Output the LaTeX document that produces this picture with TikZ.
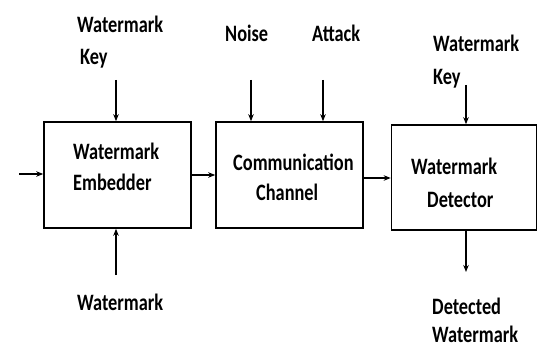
\documentclass[tikz,border=0pt]{standalone}
\usepackage{fontspec}
\setmainfont{Carlito}
\newfontfamily\lblfont{Carlito}[FakeStretch=0.78]
\usetikzlibrary{arrows.meta}
\begin{document}
\begin{tikzpicture}[x=1pt,y=-1pt,
  blk/.style={draw, line width=1.6pt, inner sep=0pt},
  lbl/.style={font=\lblfont\fontsize{23.5}{26}\selectfont\bfseries, inner sep=0pt, anchor=base west},
  arr/.style={-{Stealth[length=7pt,width=5.5pt]}, line width=1.3pt}]
\useasboundingbox (0,0) rectangle (538,350);
% blocks
\node[blk, minimum width=147pt, minimum height=106pt] (emb) at (117.5,175) {};
\node[blk, minimum width=147pt, minimum height=106pt] (chan) at (289.5,175) {};
\node[blk, minimum width=145pt, minimum height=105pt] (det) at (464,177.5) {};
% labels
\node[lbl] (wk1a) at (77,33) {Watermark};
\node[lbl] (wk1b) at (80,65) {Key};
\node[lbl] (emb1) at (73,159) {Watermark};
\node[lbl] (emb2) at (73,190) {Embedder};
\node[lbl] (wm) at (77,310) {Watermark};
\node[lbl] (noise) at (225,42) {Noise};
\node[lbl] (attack) at (312,42) {Attack};
\node[lbl] (ch1) at (233,170) {Communication};
\node[lbl] (ch2) at (256,200) {Channel};
\node[lbl] (wk2a) at (433,52) {Watermark};
\node[lbl] (wk2b) at (433,85) {Key};
\node[lbl] (det1) at (411,174) {Watermark};
\node[lbl] (det2) at (427,207) {Detector};
\node[lbl] (dd1) at (432,314) {Detected};
\node[lbl] (dd2) at (432,342) {Watermark};
% free ends
\coordinate (in) at (19,174);
\coordinate (k1) at (116,80);
\coordinate (w1) at (116,275);
\coordinate (n1) at (251,80);
\coordinate (a1) at (323,80);
\coordinate (k2) at (466,85);
\coordinate (d1) at (466,272);
\coordinate (cd) at (0,178);
% connectors
\draw[arr] (in) -- (in -| emb.west);
\draw[arr] (k1) -- (k1 |- emb.north);
\draw[arr] (w1) -- (w1 |- emb.south);
\draw[arr] (emb.east) -- (chan.west);
\draw[arr] (n1) -- (n1 |- chan.north);
\draw[arr] (a1) -- (a1 |- chan.north);
\draw[arr] (chan.east |- cd) -- (det.west |- cd);
\draw[arr] (k2) -- (k2 |- det.north);
\draw[arr] (d1 |- det.south) -- (d1);
\end{tikzpicture}
\end{document}
